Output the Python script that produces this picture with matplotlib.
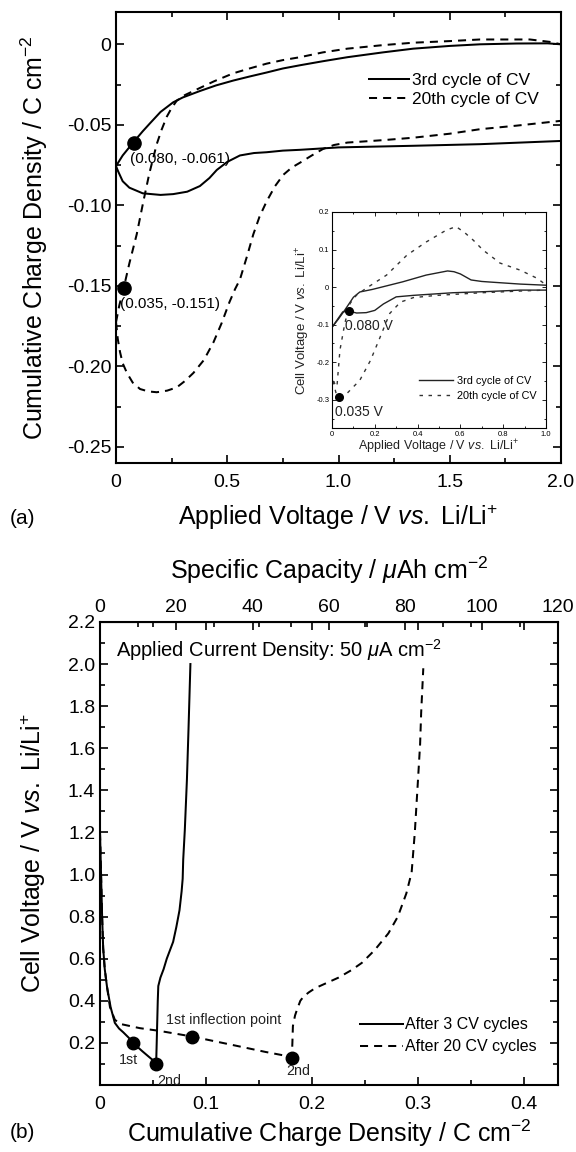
import numpy as np
import matplotlib
matplotlib.use('Agg')
import matplotlib.pyplot as plt
from matplotlib.ticker import MultipleLocator

plt.rcParams['font.family'] = ['Liberation Sans', 'DejaVu Sans']
plt.rcParams['mathtext.fontset'] = 'custom'
plt.rcParams['mathtext.rm'] = 'Liberation Sans'
plt.rcParams['mathtext.it'] = 'Liberation Sans:italic'

# ---- (a) cumulative charge density vs applied voltage (CV) ----
cv3_up_v = [0.0, 0.03, 0.077, 0.12, 0.153, 0.2, 0.257, 0.3, 0.377, 0.45, 0.527, 0.6, 0.677, 0.75, 0.827,
            0.93, 1.04, 1.2, 1.336, 1.5, 1.636, 1.8, 1.94, 2.0]
cv3_up_q = [-0.0756, -0.069, -0.061, -0.054, -0.049, -0.042, -0.036, -0.033, -0.029, -0.0255, -0.0225, -0.02,
            -0.0175, -0.015, -0.013, -0.0105, -0.008, -0.005, -0.0027, -0.001, 0.0, 0.0005, 0.0006, 0.0]
cv3_dn_v = [0.0, 0.01, 0.03, 0.06, 0.12, 0.2, 0.257, 0.32, 0.377, 0.42, 0.453, 0.5, 0.557, 0.62, 0.677, 0.75,
            0.827, 1.0, 1.335, 1.636, 2.0]
cv3_dn_q = [-0.0756, -0.079, -0.085, -0.089, -0.0925, -0.0935, -0.093, -0.0915, -0.088, -0.083, -0.078, -0.073,
            -0.069, -0.0675, -0.067, -0.066, -0.0655, -0.064, -0.063, -0.062, -0.060]

cv20_up_v = [0.0, 0.015, 0.035, 0.06, 0.093, 0.123, 0.15, 0.183, 0.205, 0.228, 0.25, 0.273, 0.31, 0.348, 0.44,
             0.527, 0.6, 0.677, 0.75, 0.827, 0.93, 1.04, 1.2, 1.336, 1.5, 1.636, 1.86, 1.95, 2.0]
cv20_up_q = [-0.1725, -0.162, -0.151, -0.136, -0.118, -0.0975, -0.08, -0.062, -0.053, -0.045, -0.0395, -0.035,
             -0.0315, -0.029, -0.023, -0.018, -0.015, -0.012, -0.0098, -0.008, -0.005, -0.0027, -0.0005, 0.001,
             0.002, 0.003, 0.003, 0.0015, 0.0]
cv20_dn_v = [0.0, 0.008, 0.018, 0.03, 0.049, 0.075, 0.108, 0.145, 0.183, 0.23, 0.273, 0.31, 0.348, 0.395, 0.438,
             0.475, 0.51, 0.535, 0.557, 0.59, 0.617, 0.645, 0.677, 0.715, 0.752, 0.79, 0.827, 0.88, 0.93, 0.98,
             1.04, 1.2, 1.335, 1.5, 1.636, 1.8, 2.0]
cv20_dn_q = [-0.1725, -0.183, -0.191, -0.198, -0.204, -0.21, -0.214, -0.2155, -0.216, -0.215, -0.213, -0.209,
             -0.204, -0.196, -0.185, -0.173, -0.16, -0.152, -0.146, -0.131, -0.118, -0.107, -0.0975, -0.088,
             -0.081, -0.0765, -0.0735, -0.069, -0.065, -0.0625, -0.061, -0.0595, -0.058, -0.0555, -0.0527,
             -0.0505, -0.0475]

pts_a_v = [0.080, 0.035]
pts_a_q = [-0.061, -0.151]
pts_a_lbl = ['(0.080, -0.061)', '(0.035, -0.151)']

# inset: cell voltage vs applied voltage
in3_up_v = [0.0, 0.03, 0.06, 0.1, 0.13, 0.19, 0.26, 0.33, 0.44, 0.54, 0.57, 0.6, 0.65, 0.7, 0.75, 0.88, 1.0]
in3_up_y = [-0.107, -0.085, -0.061, -0.027, -0.013, -0.006, 0.004, 0.014, 0.032, 0.043, 0.041, 0.035, 0.019,
            0.015, 0.013, 0.008, 0.005]
in3_dn_v = [0.0, 0.05, 0.08, 0.115, 0.16, 0.2, 0.24, 0.3, 0.38, 0.565, 0.72, 0.88, 1.0]
in3_dn_y = [-0.107, -0.066, -0.064, -0.069, -0.068, -0.062, -0.045, -0.026, -0.022, -0.015, -0.012, -0.008, -0.008]
in20_up_v = [0.005, 0.023, 0.037, 0.06, 0.085, 0.115, 0.16, 0.255, 0.35, 0.44, 0.535, 0.58, 0.62, 0.66, 0.705,
             0.785, 0.88, 0.96, 0.99]
in20_up_y = [-0.25, -0.265, -0.168, -0.096, -0.043, -0.021, -0.003, 0.032, 0.085, 0.12, 0.152, 0.161, 0.145,
             0.125, 0.099, 0.064, 0.045, 0.023, 0.01]
in20_dn_v = [0.005, 0.02, 0.035, 0.07, 0.13, 0.18, 0.225, 0.27, 0.32, 0.38, 0.49, 0.7, 0.9, 1.0]
in20_dn_y = [-0.25, -0.285, -0.293, -0.283, -0.248, -0.195, -0.133, -0.07, -0.04, -0.028, -0.022, -0.015, -0.01, -0.008]
pts_in_v = [0.080, 0.035]
pts_in_y = [-0.064, -0.293]
pts_in_lbl = ['0.080 V', '0.035 V']

# ---- (b) galvanostatic discharge/charge ----
gc3_q = [0.0, 0.001, 0.002, 0.003, 0.0045, 0.0066, 0.01, 0.014, 0.018, 0.022, 0.027, 0.031, 0.04, 0.047, 0.053,
         0.0535, 0.054, 0.0545, 0.055, 0.057, 0.06, 0.063, 0.066, 0.069, 0.072, 0.075, 0.077, 0.078, 0.0785,
         0.080, 0.082, 0.0835, 0.0853]
gc3_v = [1.2, 1.0, 0.8, 0.65, 0.55, 0.467, 0.37, 0.295, 0.268, 0.25, 0.225, 0.20, 0.16, 0.13, 0.105,
         0.2, 0.3, 0.4, 0.47, 0.51, 0.55, 0.6, 0.64, 0.68, 0.75, 0.83, 0.92, 0.98, 1.07,
         1.21, 1.45, 1.69, 2.0]
gc20_q = [0.0, 0.001, 0.002, 0.003, 0.0045, 0.0066, 0.0094, 0.014, 0.019, 0.0375, 0.056, 0.087, 0.125, 0.156,
          0.181, 0.1815, 0.182, 0.184, 0.186, 0.189, 0.192, 0.197, 0.203, 0.214, 0.225, 0.237, 0.247, 0.259,
          0.272, 0.281, 0.289, 0.294, 0.297, 0.300, 0.302, 0.303, 0.305]
gc20_v = [1.2, 1.0, 0.8, 0.65, 0.55, 0.467, 0.37, 0.31, 0.29, 0.27, 0.257, 0.23, 0.19, 0.157,
          0.133, 0.2, 0.28, 0.33, 0.36, 0.40, 0.42, 0.44, 0.46, 0.485, 0.51, 0.545, 0.58, 0.64,
          0.72, 0.80, 0.91, 1.01, 1.2, 1.45, 1.62, 1.77, 1.98]
pts_b_q = [0.031, 0.053, 0.087, 0.181]
pts_b_v = [0.20, 0.10, 0.23, 0.13]
pts_b_lbl = ['1st', '2nd', '1st inflection point', '2nd']

DASH = (0, (4, 3))
LW = 1.45

def style_ticks(ax, size=14, major=6, minor=3.5):
    ax.tick_params(which='both', direction='in', top=True, right=True, labelsize=size, width=1.2)
    ax.tick_params(which='major', length=major)
    ax.tick_params(which='minor', length=minor)
    for s in ax.spines.values():
        s.set_linewidth(1.5)

fig = plt.figure(figsize=(5.76, 11.52), dpi=100)

# ---------------- panel (a) ----------------
ax1 = fig.add_axes([0.2014, 0.598, 0.7726, 0.3915])
ax1.plot(cv3_up_v, cv3_up_q, 'k-', lw=LW, label='3rd cycle of CV')
ax1.plot(cv3_dn_v, cv3_dn_q, 'k-', lw=LW)
ax1.plot(cv20_up_v, cv20_up_q, color='k', ls=DASH, lw=LW, label='20th cycle of CV')
ax1.plot(cv20_dn_v, cv20_dn_q, color='k', ls=DASH, lw=LW)
ax1.plot(pts_a_v, pts_a_q, 'ko', ms=9.5)
for v, q, t in zip(pts_a_v, pts_a_q, pts_a_lbl):
    ax1.annotate(t, (v, q), xytext=(-3, -12), textcoords='offset points', fontsize=11, va='center')
ax1.set_xlim(0, 2.0)
ax1.set_ylim(-0.26, 0.02)
ax1.xaxis.set_minor_locator(MultipleLocator(0.25))
ax1.yaxis.set_minor_locator(MultipleLocator(0.025))
ax1.set_xticks([0, 0.5, 1.0, 1.5, 2.0])
ax1.set_xticklabels(['0', '0.5', '1.0', '1.5', '2.0'])
ax1.set_yticks([0, -0.05, -0.10, -0.15, -0.20, -0.25])
ax1.set_yticklabels(['0', '-0.05', '-0.10', '-0.15', '-0.20', '-0.25'])
style_ticks(ax1)
ax1.tick_params(axis='x', pad=8)
ax1.set_xlabel('Applied Voltage / V $\\mathit{vs.}$ Li/Li$^{+}$', fontsize=18, labelpad=8)
ax1.set_ylabel('Cumulative Charge Density / C cm$^{-2}$', fontsize=18, labelpad=12)
ax1.legend(loc='upper right', bbox_to_anchor=(0.985, 0.9), frameon=False, fontsize=12.5,
           handlelength=2.3, handletextpad=0.15, labelspacing=0.2)
fig.text(0.017, 0.5503, '(a)', fontsize=15, va='center')

# inset
axi = fig.add_axes([0.5764, 0.6285, 0.3715, 0.1875])
axi.plot(in3_up_v, in3_up_y, color='#222222', lw=1.0, label='3rd cycle of CV')
axi.plot(in3_dn_v, in3_dn_y, color='#222222', lw=1.0)
axi.plot(in20_up_v, in20_up_y, color='#333333', ls=(0, (2.5, 4)), lw=1.0, label='20th cycle of CV')
axi.plot(in20_dn_v, in20_dn_y, color='#333333', ls=(0, (2.5, 4)), lw=1.0)
axi.plot(pts_in_v, pts_in_y, 'ko', ms=5.5)
for v, y, t in zip(pts_in_v, pts_in_y, pts_in_lbl):
    axi.annotate(t, (v, y), xytext=(-3, -11), textcoords='offset points', fontsize=10, va='center', color='#222222')
axi.set_xlim(0, 1.0)
axi.set_ylim(-0.375, 0.2)
axi.set_xticks([0, 0.2, 0.4, 0.6, 0.8, 1.0])
axi.set_xticklabels(['0', '0.2', '0.4', '0.6', '0.8', '1.0'])
axi.xaxis.set_minor_locator(MultipleLocator(0.1))
axi.set_yticks([0.2, 0.1, 0, -0.1, -0.2, -0.3])
axi.set_yticklabels(['0.2', '0.1', '0', '-0.1', '-0.2', '-0.3'])
axi.yaxis.set_minor_locator(MultipleLocator(0.05))
axi.tick_params(which='both', direction='in', top=True, right=True, labelsize=5.5, width=0.6, pad=2)
axi.tick_params(which='major', length=3)
axi.tick_params(which='minor', length=1.5)
for s in axi.spines.values():
    s.set_linewidth(0.8)
axi.set_xlabel('Applied Voltage / V $\\mathit{vs.}$ Li/Li$^{+}$', fontsize=9, labelpad=0, color='#222222')
axi.set_ylabel('Cell Voltage / V $\\mathit{vs.}$ Li/Li$^{+}$', fontsize=9.5, labelpad=3, color='#222222')
axi.legend(loc='lower right', bbox_to_anchor=(1.0, 0.08), frameon=False, fontsize=7.8,
           handlelength=3.2, handletextpad=0.3, labelspacing=0.45)

# ---------------- panel (b) ----------------
ax2 = fig.add_axes([0.1736, 0.0582, 0.795, 0.4019])
ax2.plot(gc3_q, gc3_v, 'k-', lw=LW, label='After 3 CV cycles')
ax2.plot(gc20_q, gc20_v, color='k', ls=DASH, lw=LW, label='After 20 CV cycles')
ax2.plot(pts_b_q, pts_b_v, 'ko', ms=9)
offs = [(-10, -12), (1, -12), (-19, 12), (-4, -10)]
for q, v, t, o in zip(pts_b_q, pts_b_v, pts_b_lbl, offs):
    ax2.annotate(t, (q, v), xytext=o, textcoords='offset points', fontsize=10.3, va='center', color='#222222')
ax2.set_xlim(0, 0.432)
ax2.set_ylim(0, 2.2)
ax2.set_xticks([0, 0.1, 0.2, 0.3, 0.4])
ax2.set_xticklabels(['0', '0.1', '0.2', '0.3', '0.4'])
ax2.xaxis.set_minor_locator(MultipleLocator(0.05))
ax2.set_yticks(np.arange(0.2, 2.21, 0.2))
ax2.yaxis.set_minor_locator(MultipleLocator(0.1))
style_ticks(ax2)
ax2.tick_params(axis='x', pad=8)
ax2.set_xlabel('Cumulative Charge Density / C cm$^{-2}$', fontsize=18, labelpad=3)
ax2.set_ylabel('Cell Voltage / V $\\mathit{vs.}$ Li/Li$^{+}$', fontsize=18, labelpad=14)
ax2.text(0.035, 0.968, 'Applied Current Density: 50 $\\mu$A cm$^{-2}$', transform=ax2.transAxes,
         fontsize=14.5, va='top')
ax2.legend(loc='lower right', bbox_to_anchor=(0.985, 0.035), frameon=False, fontsize=11.5,
           handlelength=2.7, handletextpad=0.15, labelspacing=0.45)

top = ax2.secondary_xaxis('top', functions=(lambda x: x / 0.0036, lambda c: c * 0.0036))
top.set_xticks([0, 20, 40, 60, 80, 100, 120])
top.xaxis.set_minor_locator(MultipleLocator(10))
top.tick_params(which='both', direction='in', labelsize=14, width=1.2, pad=4)
top.tick_params(which='major', length=6)
top.tick_params(which='minor', length=3.5)
top.set_xlabel('Specific Capacity / $\\mu$Ah cm$^{-2}$', fontsize=18, labelpad=15)
fig.text(0.017, 0.0165, '(b)', fontsize=15, va='center')

fig.savefig('out.png', dpi=100)
